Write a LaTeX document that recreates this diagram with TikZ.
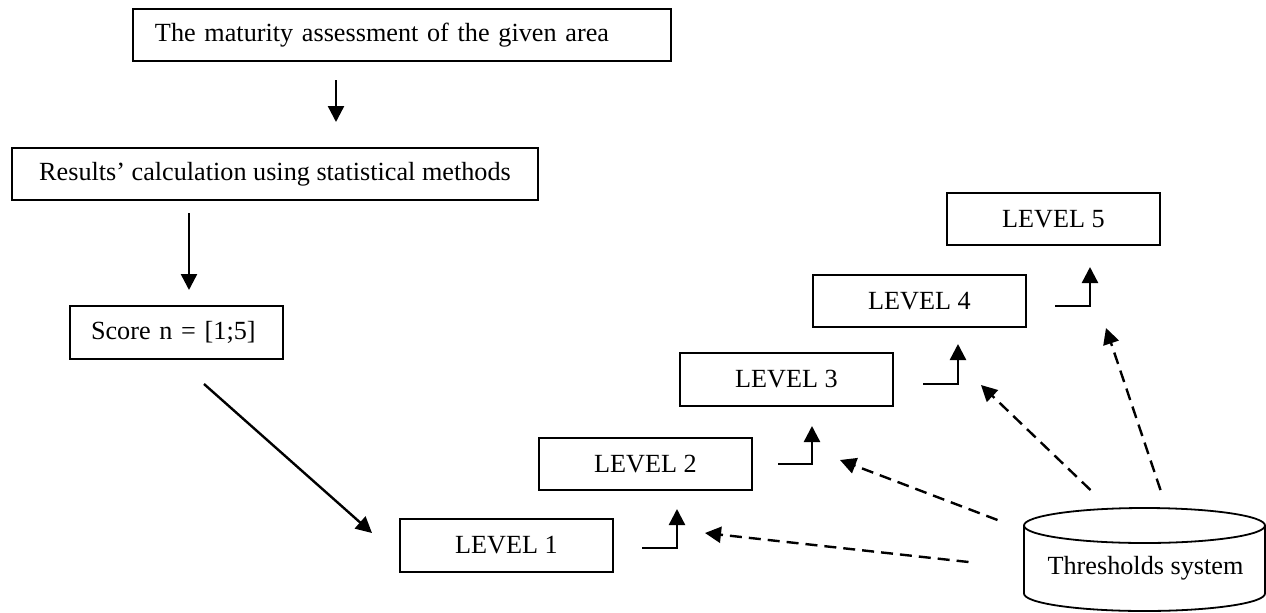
\documentclass[tikz,border=0pt]{standalone}
\usepackage{fontspec}
\setmainfont{Liberation Serif}
\usetikzlibrary{arrows.meta,calc}
\begin{document}
\begin{tikzpicture}[x=0.5pt,y=-0.5pt, line width=1.2pt,
  box/.style={draw, line width=1.1pt, minimum height=26pt, inner sep=0pt, outer sep=0pt,
              font=\fontsize{13.1pt}{16pt}\selectfont},
  lvl/.style={box, minimum width=106.5pt},
  arr/.style={-{Triangle[length=8pt,width=8pt]}, line width=1.2pt},
  darr/.style={arr, dash pattern=on 6pt off 3.5pt}]
\useasboundingbox (0,0) rectangle (1266,612);

\node[box, minimum width=269pt, text width=247pt, inner xsep=11pt, align=left] (top) at (402,35) {The maturity assessment of the given area};
\node[box, minimum width=263pt] (res) at (275,174) {Results’ calculation using statistical methods};
\node[box, minimum width=106.5pt, minimum height=26.5pt, text width=85.5pt, inner xsep=10.5pt, align=left] (score) at (176.5,332.5) {Score n = [1;5]};

\node[lvl, minimum height=26.5pt] (L1) at (506.5,545.5) {LEVEL 1};
\node[lvl] (L2) at (645.5,464) {LEVEL 2};
\node[lvl, minimum height=26.5pt] (L3) at (786.5,379.5) {LEVEL 3};
\node[lvl] (L4) at (919.5,301) {LEVEL 4};
\node[lvl] (L5) at (1053.5,219) {LEVEL 5};

% cylinder
\node[font=\fontsize{13.1pt}{16pt}\selectfont, inner sep=0pt] (thr) at (1145.5,568) {Thresholds system};
\draw[line width=0.9pt] (1144.5,525.5) ellipse [x radius=120.5, y radius=17.5];
\draw[line width=0.9pt] (1024,525.5) -- (1024,593.5)
   arc[start angle=180, end angle=0, x radius=120.5, y radius=17.5] -- (1265,525.5);

% main flow
\draw[arr] ($(top.south)+(-66,19)$) -- ($(res.north)+(61,-26)$);
\draw[arr] ($(res.south)+(-86,13)$) -- ($(score.north)+(12.5,-16)$);
\draw[arr] ($(score.south)+(27.5,25)$) -- ($(L1.north west)+(-28,14)$);

% steps
\draw[arr] ($(L1.east)+(29,2.5)$) -| ($(L2.south)+(31.5,19)$);
\draw[arr] ($(L2.east)+(26,0)$) -| ($(L3.south)+(25.5,20)$);
\draw[arr] ($(L3.east)+(30,4.5)$) -| ($(L4.south)+(38.5,17)$);
\draw[arr] ($(L4.east)+(29,5)$) -| ($(L5.south)+(36.5,22)$);

% thresholds
\draw[darr] ($(thr)+(-177,-6)$) -- ($(L1.east)+(92,-12.5)$);
\draw[darr] ($(thr)+(-148,-48)$) -- ($(L2.east)+(88,-4)$);
\draw[darr] ($(thr)+(-55,-78)$) -- ($(L3.east)+(88,5.5)$);
\draw[darr] ($(thr)+(15,-78)$) -- ($(L4.east)+(80,27)$);
\end{tikzpicture}
\end{document}
